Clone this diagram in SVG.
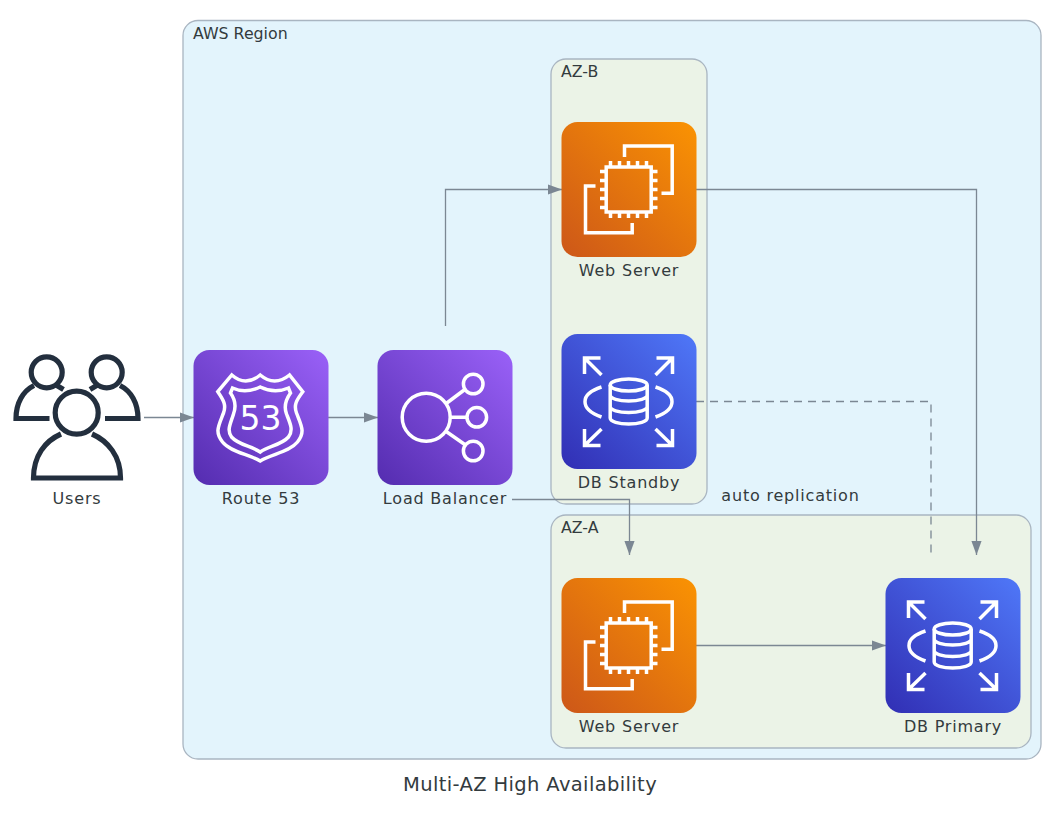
<svg xmlns="http://www.w3.org/2000/svg" width="1062" height="813" viewBox="0 0 1062 813">
<style>
text{font-family:"DejaVu Sans",sans-serif;fill:#333b3e;font-size:16px}
.m{text-anchor:middle;letter-spacing:.8px}
.c{font-size:15.8px}
.g{stroke:#a9b5c1;stroke-width:1.3}
.e{fill:none;stroke:#7b8793;stroke-width:1.3}
.i{fill:none;stroke:#fff;stroke-width:3.5}
.u{fill:none;stroke:#232f3e;stroke-width:5.2}
</style>
<defs>
<linearGradient id="o" x1="-0.1" y1="1.1" x2="1.1" y2="-0.1"><stop offset="0" stop-color="#c8511b"/><stop offset="1" stop-color="#ff9900"/></linearGradient>
<linearGradient id="p" x1="-0.1" y1="1.1" x2="1.1" y2="-0.1"><stop offset="0" stop-color="#4d27a8"/><stop offset="1" stop-color="#a166ff"/></linearGradient>
<linearGradient id="b" x1="-0.1" y1="1.1" x2="1.1" y2="-0.1"><stop offset="0" stop-color="#2e27ad"/><stop offset="1" stop-color="#527fff"/></linearGradient>
<marker id="a" markerUnits="userSpaceOnUse" markerWidth="15" markerHeight="11" refX="14.500" refY="5.250" orient="auto"><path d="M0 0L14.500 5.250L0 10.500Z" fill="#7b8793"/></marker>
<g id="ec2">
<rect width="135" height="135" rx="16" fill="url(#o)"/>
<path class="i" d="M63 35V24H110.700V71.300H100M34 64H24V110.700H70.700V101"/>
<rect class="i" x="44.700" y="45" width="45" height="45"/>
<path class="i" d="M49 39V45M58 39V45M67 39V45M76 39V45M85 39V45M49 90V96M58 90V96M67 90V96M76 90V96M85 90V96M38.500 49.500H44.700M38.500 58.500H44.700M38.500 67.500H44.700M38.500 76.500H44.700M38.500 85.500H44.700M89.700 49.500H96M89.700 58.500H96M89.700 67.500H96M89.700 76.500H96M89.700 85.500H96"/>
</g>
<g id="rds">
<rect width="135" height="135" rx="16" fill="url(#b)"/>
<path class="i" d="M23 40V24H39M23 24L40 41M95 24H111V40M111 24L94 41M23 95V111.500H39M23 111.500L40 95M95 111.500H111V95M111 111.500L94 95"/>
<path class="i" d="M40 53C18 60 18 75 40 83M94 53C116 60 116 75 94 83"/>
<ellipse class="i" cx="67.200" cy="51" rx="18.500" ry="6"/>
<path class="i" d="M48.700 51V84C48.700 87.500 57 90 67.200 90S85.700 87.500 85.700 84V51M48.700 61C48.700 64.500 57 67 67.200 67S85.700 64.500 85.700 61M48.700 72.500C48.700 76 57 78.500 67.200 78.500S85.700 76 85.700 72.500"/>
</g>
</defs>
<g id="region-aws"><rect class="g" x="183" y="20.500" width="858" height="738.500" rx="15" fill="#e3f4fc"/><text class="c" x="193" y="38.500">AWS Region</text></g>
<g id="cluster-az-b"><rect class="g" x="551" y="59" width="156" height="445" rx="15" fill="#ebf3e7"/><text class="c" x="561" y="77">AZ-B</text></g>
<g id="cluster-az-a"><rect class="g" x="551" y="515" width="480" height="233" rx="15" fill="#ebf3e7"/><text class="c" x="561" y="533">AZ-A</text></g>
<g id="connectors">
<path class="e" marker-end="url(#a)" d="M144 417.500H194"/>
<path class="e" marker-end="url(#a)" d="M328 417.500H378"/>
<path class="e" marker-end="url(#a)" d="M445.500 326V189.500H562"/>
<path class="e" marker-end="url(#a)" d="M512 499.500H629.500V555"/>
<path class="e" marker-end="url(#a)" d="M696 189.500H976.500V555"/>
<path class="e" marker-end="url(#a)" d="M696 645.500H886"/>
<path class="e" stroke-dasharray="8 6" d="M696 401.500H931V555"/>
<text class="m" x="790.500" y="500.500">auto replication</text>
</g>
<g id="users">
<circle class="u" cx="76.700" cy="412.700" r="21.500"/>
<path class="u" d="M61 434C45 441 33.500 456 33.500 478H120.500C120.500 456 108 441 92 434"/>
<circle class="u" cx="46.700" cy="372.300" r="15.500"/>
<circle class="u" cx="106.700" cy="372.300" r="15.500"/>
<path class="u" d="M49.500 418.500H16C16 403 23 391 34 385.500M56 385L63.500 389.500M105 418.500H138C138 403 131 391 120 385.500M97.500 385L90 389.500"/>
<text class="m" x="77" y="504">Users</text>
</g>
<g id="route53" transform="translate(193.500 350)">
<rect width="135" height="135" rx="16" fill="url(#p)"/>
<path class="i" d="M24.300 41.700L38.300 25Q52 37 66.700 25Q81 37 96 25L109.300 41.700C103 50 100 55 103 63C108 76 112 82 104 92C96 102 78 104 66.700 111C55 104 37 102 29 92C21 82 25 76 30 63C33 55 30 50 24.300 41.700Z"/>
<path class="i" d="M37 43L39 38Q52 44 66.700 37Q81 44 95 38L97 43C92 50 90 56 93 64C97 74 100 80 95 87C88 95 75 96 66.700 102C58 96 45 95 38 87C33 80 37 74 40 64C43 56 42 50 37 43Z" stroke-width="2.800"/>
<text x="67" y="80" text-anchor="middle" style="fill:#fff;font-size:33px">53</text>
</g>
<text class="m" x="261" y="504">Route 53</text>
<g id="load-balancer" transform="translate(377.500 350)">
<rect width="135" height="135" rx="16" fill="url(#p)"/>
<circle class="i" cx="48.700" cy="67.300" r="24"/>
<circle class="i" cx="95.700" cy="34" r="9.800"/>
<circle class="i" cx="99.300" cy="67.300" r="9.800"/>
<circle class="i" cx="95.700" cy="101" r="9.800"/>
<path class="i" d="M68 54L88 39M73 67.300H89.500M68 81L88 95"/>
</g>
<text class="m" x="445" y="504">Load Balancer</text>
<g id="web-b"><use href="#ec2" x="561.500" y="122"/><text class="m" x="629" y="276">Web Server</text></g>
<g id="db-standby"><use href="#rds" x="561.500" y="334"/><text class="m" x="629" y="488">DB Standby</text></g>
<g id="web-a"><use href="#ec2" x="561.500" y="578"/><text class="m" x="629" y="732">Web Server</text></g>
<g id="db-primary"><use href="#rds" x="885.500" y="578"/><text class="m" x="953" y="732">DB Primary</text></g>
<text x="530" y="791" text-anchor="middle" style="font-size:19.500px;letter-spacing:.37px">Multi-AZ High Availability</text>
</svg>
